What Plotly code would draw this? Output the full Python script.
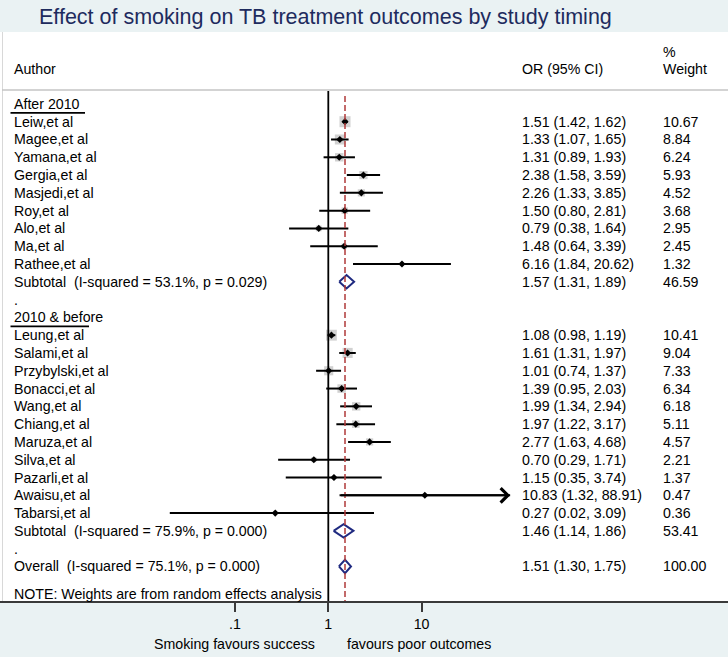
import numpy as np
import plotly.graph_objects as go

# ---------------- data ----------------
after_authors = ["Leiw,et al", "Magee,et al", "Yamana,et al", "Gergia,et al", "Masjedi,et al",
                 "Roy,et al", "Alo,et al", "Ma,et al", "Rathee,et al"]
after_or = [1.51, 1.33, 1.31, 2.38, 2.26, 1.50, 0.79, 1.48, 6.16]
after_lo = [1.42, 1.07, 0.89, 1.58, 1.33, 0.80, 0.38, 0.64, 1.84]
after_hi = [1.62, 1.65, 1.93, 3.59, 3.85, 2.81, 1.64, 3.39, 20.62]
after_w = [10.67, 8.84, 6.24, 5.93, 4.52, 3.68, 2.95, 2.45, 1.32]
after_sub = [1.57, 1.31, 1.89, 46.59]
after_sub_label = "Subtotal  (I-squared = 53.1%, p = 0.029)"

before_authors = ["Leung,et al", "Salami,et al", "Przybylski,et al", "Bonacci,et al", "Wang,et al",
                  "Chiang,et al", "Maruza,et al", "Silva,et al", "Pazarli,et al", "Awaisu,et al",
                  "Tabarsi,et al"]
before_or = [1.08, 1.61, 1.01, 1.39, 1.99, 1.97, 2.77, 0.70, 1.15, 10.83, 0.27]
before_lo = [0.98, 1.31, 0.74, 0.95, 1.34, 1.22, 1.63, 0.29, 0.35, 1.32, 0.02]
before_hi = [1.19, 1.97, 1.37, 2.03, 2.94, 3.17, 4.68, 1.71, 3.74, 88.91, 3.09]
before_w = [10.41, 9.04, 7.33, 6.34, 6.18, 5.11, 4.57, 2.21, 1.37, 0.47, 0.36]
before_sub = [1.46, 1.14, 1.86, 53.41]
before_sub_label = "Subtotal  (I-squared = 75.9%, p = 0.000)"

overall = [1.51, 1.30, 1.75, 100.00]
overall_label = "Overall  (I-squared = 75.1%, p = 0.000)"

group_titles = ["After 2010", "2010 & before"]
tick_vals = [0.1, 1, 10]
tick_text = [".1", "1", "10"]
title_text = "Effect of smoking on TB treatment outcomes by study timing"
note_text = "NOTE: Weights are from random effects analysis"
favours_left = "Smoking favours success"
favours_right = "favours poor outcomes"

# ---------------- layout constants ----------------
W, H = 728, 659
FONT = "Liberation Sans, Arial, sans-serif"
BAND = "#eaf2f3"
NAVY = "#1f2a80"
FS = 14.2

X0_PX = 328.3        # pixel of OR = 1
DEC_PX = 93.3        # pixels per decade
ROW0_PX = 121.7      # pixel of row 1
ROW_PX = 17.79       # pixels per row
AXIS_PX = 601.0      # x axis line pixel

def px_x(p):
    return p / W

def px_y(p):
    return 1 - p / H

def px_row(p):
    return 1 + (p - ROW0_PX) / ROW_PX

xr = [(0 - X0_PX) / DEC_PX, (W - X0_PX) / DEC_PX]
yr = [px_row(AXIS_PX), px_row(0)]

# ---------------- build rows ----------------
rows = []  # (kind, label, est, lo, hi, w)
rows.append(("group", group_titles[0], None, None, None, None))
for a, e, l, h, w in zip(after_authors, after_or, after_lo, after_hi, after_w):
    rows.append(("study", a, e, l, h, w))
rows.append(("sub", after_sub_label, *after_sub))
rows.append(("dot", ".", None, None, None, None))
rows.append(("group", group_titles[1], None, None, None, None))
for a, e, l, h, w in zip(before_authors, before_or, before_lo, before_hi, before_w):
    rows.append(("study", a, e, l, h, w))
rows.append(("sub", before_sub_label, *before_sub))
rows.append(("dot", ".", None, None, None, None))
rows.append(("sub", overall_label, *overall))

fig = go.Figure()
annotations = []
shapes = []

# white panel and frame
shapes.append(dict(type="rect", xref="paper", yref="paper", x0=0, x1=1,
                   y0=px_y(AXIS_PX), y1=px_y(32), fillcolor="white", line_width=0, layer="below"))
shapes.append(dict(type="rect", xref="paper", yref="paper", x0=0, x1=1,
                   y0=0, y1=px_y(657), fillcolor="white", line_width=0, layer="below"))
shapes.append(dict(type="line", xref="paper", yref="paper", x0=px_x(2.5), x1=px_x(2.5),
                   y0=px_y(AXIS_PX), y1=px_y(32), line=dict(color="#d8d8d8", width=1)))
shapes.append(dict(type="line", xref="paper", yref="paper", x0=px_x(2), x1=1,
                   y0=px_y(90), y1=px_y(90), line=dict(color="#c4c4c4", width=1.5)))

# boxes, CI lines, points
bx, by, bs = [], [], []
lx, ly = [], []
ptx, pty = [], []
arrows = []
for i, (kind, label, e, l, h, w) in enumerate(rows):
    r = i
    if kind == "study":
        bx.append(e); by.append(r); bs.append(11 * np.sqrt(w / after_w[0]))
        lx += [l, h, None]; ly += [r, r, None]
        ptx.append(e); pty.append(r)
        if h > 50:
            arrows.append((l, h, r))
    elif kind == "sub":
        dh = 0.377
        fig.add_trace(go.Scatter(x=[l, e, h, e, l], y=[r, r - dh, r, r + dh, r],
                                 mode="lines", fill="toself", fillcolor="white",
                                 line=dict(color=NAVY, width=2), hoverinfo="skip",
                                 showlegend=False))

fig.add_trace(go.Scatter(x=bx, y=by, mode="markers",
                         marker=dict(symbol="square", size=bs, color="#bdbdbd", line_width=0),
                         hoverinfo="skip", showlegend=False))
fig.add_trace(go.Scatter(x=lx, y=ly, mode="lines", line=dict(color="black", width=2),
                         hoverinfo="skip", showlegend=False))
fig.add_trace(go.Scatter(x=ptx, y=pty, mode="markers",
                         marker=dict(symbol="diamond", size=5.5, color="black", line_width=0),
                         hoverinfo="skip", showlegend=False))

for l, h, r in arrows:
    annotations.append(dict(x=np.log10(h), y=r, ax=np.log10(l), ay=r, xref="x", yref="y",
                            axref="x", ayref="y", showarrow=True, arrowhead=4, arrowsize=1.4,
                            arrowwidth=2, arrowcolor="black", text=""))

# reference lines
top_solid = px_row(91)
top_dash = px_row(96)
bottom = px_row(AXIS_PX)
fig.add_trace(go.Scatter(x=[1, 1], y=[top_solid, bottom], mode="lines",
                         line=dict(color="black", width=1.8), hoverinfo="skip", showlegend=False))
fig.add_trace(go.Scatter(x=[overall[0], overall[0]], y=[top_dash, bottom], mode="lines",
                         line=dict(color="#b03a3a", width=1.5, dash="6px,3px"),
                         hoverinfo="skip", showlegend=False))

# row texts
def txt(x, y, s, yref="y", xanchor="left", size=FS, color="black"):
    annotations.append(dict(x=x, y=y, xref="paper", yref=yref, text=s, showarrow=False,
                            xanchor=xanchor, yanchor="middle",
                            font=dict(family=FONT, size=size, color=color)))

for i, (kind, label, e, l, h, w) in enumerate(rows):
    txt(px_x(12), i, label)
    if kind in ("study", "sub"):
        txt(px_x(520), i, f"{e:.2f} ({l:.2f}, {h:.2f})")
        txt(px_x(660.5), i, f"{w:.2f}")
    if kind == "group":
        yy = px_y(ROW0_PX + (i - 1) * ROW_PX + 9)
        shapes.append(dict(type="line", xref="paper", yref="paper", x0=px_x(10.5),
                           x1=px_x(85 if i == 0 else 89), y0=yy, y1=yy,
                           line=dict(color="black", width=1.6)))

# headers
txt(px_x(12), px_y(69), "Author", yref="paper")
txt(px_x(520), px_y(69), "OR (95% CI)", yref="paper")
txt(px_x(660.5), px_y(51.5), "%", yref="paper")
txt(px_x(660.5), px_y(69), "Weight", yref="paper")
txt(px_x(12), px_y(593.5), note_text, yref="paper")

# title
txt(px_x(37), px_y(17), title_text, yref="paper", size=21.5, color="#1e2b5e")

# favours labels
txt(px_x(317), px_y(644), favours_left, yref="paper", xanchor="right")
txt(px_x(345), px_y(644), favours_right, yref="paper")

fig.update_layout(
    width=W, height=H,
    margin=dict(l=0, r=0, t=0, b=0),
    paper_bgcolor=BAND, plot_bgcolor="rgba(0,0,0,0)",
    showlegend=False,
    xaxis=dict(type="log", range=xr, domain=[0, 1], showgrid=False, zeroline=False,
               showline=True, linecolor="#3a3a3a", linewidth=2,
               ticks="outside", ticklen=9, tickwidth=1.5, tickcolor="#3a3a3a",
               tickvals=tick_vals, ticktext=tick_text,
               tickfont=dict(family=FONT, size=FS, color="black"), fixedrange=True),
    yaxis=dict(range=yr, domain=[px_y(AXIS_PX), 1], showgrid=False, zeroline=False,
               showline=False, showticklabels=False, ticks="", fixedrange=True),
    annotations=annotations,
    shapes=shapes,
)

fig.write_html("out.html", config={"displayModeBar": False},
               post_script="document.body.style.margin='0px';")
